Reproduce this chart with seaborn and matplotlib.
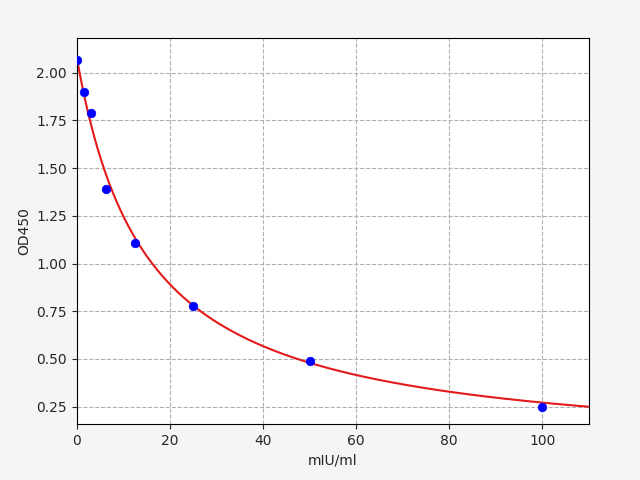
import numpy as np
import pandas as pd
import matplotlib
matplotlib.use("Agg")
import matplotlib.pyplot as plt
import seaborn as sns

conc = [0, 1.5625, 3.125, 6.25, 12.5, 25, 50, 100]
od = [2.065, 1.90, 1.79, 1.39, 1.11, 0.78, 0.49, 0.25]
# fitted 4PL parameters (top, slope, EC50, bottom)
fit_a, fit_b, fit_c, fit_d = 2.08, 1.0, 15.0, 0.0

xs = np.linspace(0, 110, 400)
ys = fit_d + (fit_a - fit_d) / (1 + (xs / fit_c) ** fit_b)

sns.set_style("white")
fig, ax = plt.subplots(figsize=(6.4, 4.8), dpi=100)
fig.subplots_adjust(left=0.12, right=0.92, top=0.92, bottom=0.117)
fig.patch.set_facecolor("#f5f5f5")
sns.lineplot(x=xs, y=ys, color="#e31a1c", ax=ax, linewidth=1.5)
sns.scatterplot(x=conc, y=od, color="blue", s=38, edgecolor="blue", ax=ax, zorder=3)
ax.set_xlim(0, 110)
ax.set_ylim(0.16, 2.18)
ax.set_yticks([0.25, 0.5, 0.75, 1.0, 1.25, 1.5, 1.75, 2.0])
ax.grid(True, linestyle="--", color="#b0b0b0")
for s in ax.spines.values():
    s.set_color("black")
ax.tick_params(left=True, bottom=True)
ax.set_xlabel("mIU/ml")
ax.set_ylabel("OD450")
fig.savefig("out.png", dpi=100, facecolor=fig.get_facecolor())
